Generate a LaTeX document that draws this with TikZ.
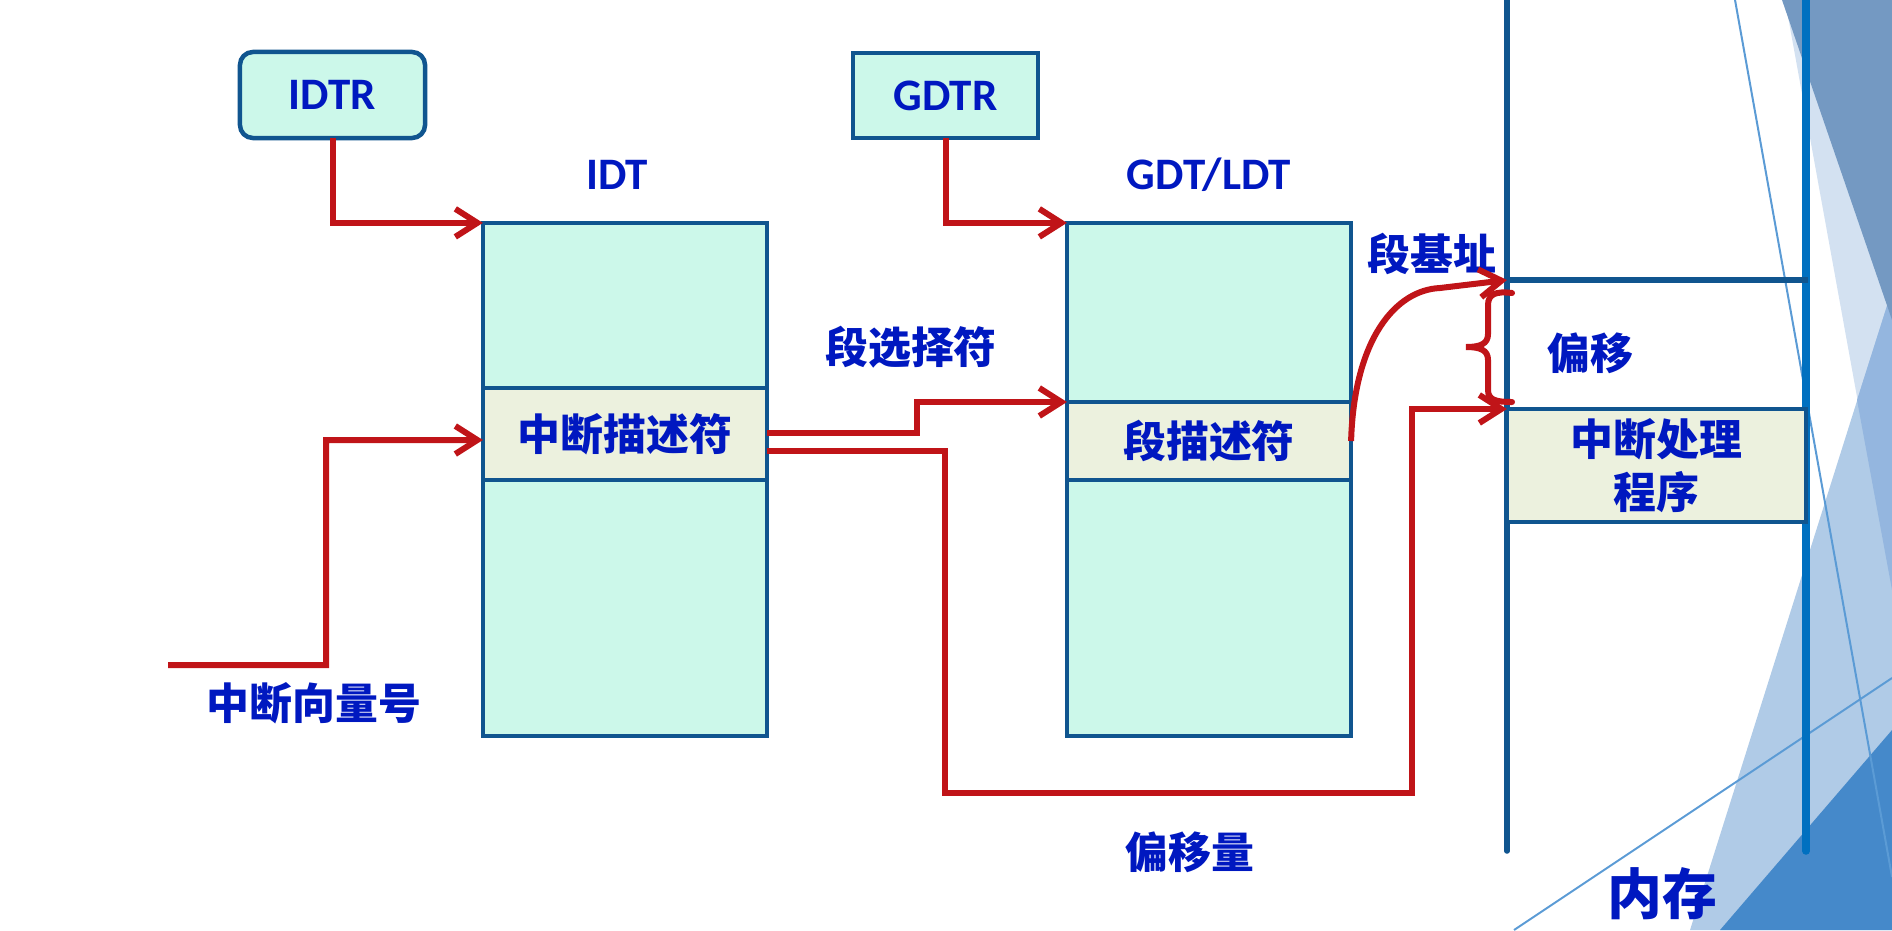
\documentclass[tikz,border=0pt]{standalone}
\usepackage{fontspec}
\setmainfont{Carlito}
\newfontfamily\cjk{Noto Sans CJK SC}
\usetikzlibrary{arrows.meta,calc}
\definecolor{mint}{HTML}{CCF8EA}
\definecolor{beige}{HTML}{ECF1DE}
\definecolor{bordc}{HTML}{10558F}
\definecolor{arrowred}{HTML}{C01418}
\definecolor{txtblue}{HTML}{0018C0}
\definecolor{memblue}{HTML}{0070C0}
\definecolor{bgpale}{HTML}{D3E1F1}
\definecolor{bglight}{HTML}{B0CBE7}
\definecolor{bgmed}{HTML}{94B6DF}
\definecolor{bgsteel}{HTML}{7499C2}
\definecolor{bgdark}{HTML}{4589CA}
\definecolor{bgline}{HTML}{5B9BD5}
\begin{document}
\begin{tikzpicture}[x=0.01cm,y=-0.01cm,
  tbl/.style={draw=bordc, line width=0.045cm, fill=mint, inner sep=0pt, outer sep=0pt},
  midrow/.style={tbl, fill=beige, text=txtblue, font=\cjk\bfseries\fontsize{12.2}{15.1}\selectfont},
  reg/.style={tbl, text=txtblue, font=\bfseries\fontsize{12.8}{15}\selectfont},
  lbl/.style={text=txtblue, font=\cjk\bfseries\fontsize{12.2}{15}\selectfont, inner sep=0pt},
  elbl/.style={text=txtblue, font=\bfseries\fontsize{12.8}{15}\selectfont, inner sep=0pt, anchor=base},
  redarrow/.style={draw=arrowred, line width=0.06cm, -{Straight Barb[length=0.22cm,width=0.28cm]}},
  redline/.style={draw=arrowred, line width=0.06cm, line cap=round},
  thinline/.style={draw=bgline, line width=0.02cm}]
\useasboundingbox (0,0) rectangle (1892,930);
% background decoration
\fill[bgpale] (1785,0) -- (1892,0) -- (1892,590) -- cycle;
\fill[bglight] (1892,290) -- (1690,930) -- (1892,930) -- cycle;
\fill[bgmed] (1892,290) -- (1857,400) -- (1892,590) -- cycle;
\fill[bgsteel] (1782,0) -- (1892,0) -- (1892,320) -- cycle;
\fill[bgdark] (1892,730) -- (1720,930) -- (1892,930) -- cycle;
\draw[thinline] (1735,0) -- (1892,877);
\draw[thinline] (1514,930) -- (1892,678);
% memory
\coordinate (mLt) at (1507,0);
\coordinate (mLb) at (1507,851);
\coordinate (mRt) at (1806,0);
\coordinate (mRb) at (1806,851);
\coordinate (mbL) at (1507,280);
\coordinate (mbR) at (1808,280);
\draw[bordc, line width=0.055cm, line cap=round] (mLt) -- (mLb);
\draw[memblue, line width=0.075cm, line cap=round] (mRt) -- (mRb);
\draw[bordc, line width=0.055cm] (mbL) -- (mbR);
\node[midrow, minimum width=2.99cm, minimum height=1.13cm, align=center] (HP) at (1656.5,465.5) {中断处理\\程序};
% registers
\node[reg, rounded corners=0.13cm, minimum width=1.85cm, minimum height=0.86cm] (IDTR) at (332.5,95) {IDTR};
\node[reg, minimum width=1.85cm, minimum height=0.85cm] (GDTR) at (945.5,95.5) {GDTR};
% tables
\node[tbl, minimum width=2.84cm, minimum height=5.13cm] (IDT) at (625,479.5) {};
\node[midrow, minimum width=2.84cm, minimum height=0.92cm] (IDTm) at (625,434) {中断描述符};
\node[tbl, minimum width=2.84cm, minimum height=5.13cm] (GDT) at (1209,479.5) {};
\node[midrow, minimum width=2.84cm, minimum height=0.78cm] (GDTm) at (1209,441) {段描述符};
\node[elbl] (IDTlab) at (617,189) {IDT};
\node[elbl] (GDTlab) at (1209,189) {GDT/LDT};
% labels
\node[lbl] (sel) at (911,347) {段选择符};
\node[lbl] (vec) at (314,703) {中断向量号};
\node[lbl] (off) at (1190,852) {偏移量};
\node[lbl] (basel) at (1432,254) {段基址};
\node[lbl] (offs) at (1590,353) {偏移};
\node[lbl, font=\cjk\bfseries\fontsize{15.6}{18}\selectfont] (mem) at (1662,894) {内存};
% connectors
\coordinate (vecstart) at (168,665);
\draw[redarrow] (IDTR.south) |- (IDT.north west);
\draw[redarrow] (GDTR.south) |- (GDT.north west);
\draw[redarrow] (vecstart) -| (326,440) -- ([yshift=-0.06cm]IDTm.west);
\draw[redarrow] ([yshift=0.01cm]IDTm.east) -- (917,433) |- (GDTm.north west);
\draw[redarrow] ([yshift=-0.17cm]IDTm.east) -| (945,793) -| ([xshift=-0.95cm]HP.north west) -- (HP.north west);
\draw[redarrow] (GDTm.east) .. controls (1354,340) and (1395,290) .. (1440,288) -- (mbL);
% brace
\draw[redline] (1512,293) .. controls (1496,291) and (1488,294) .. (1488,305) -- (1488,334) .. controls (1488,344) and (1480,347) .. (1466,347) .. controls (1480,347) and (1488,350) .. (1488,360) -- (1488,390) .. controls (1488,400) and (1496,402) .. (1512,402);
\end{tikzpicture}
\end{document}
